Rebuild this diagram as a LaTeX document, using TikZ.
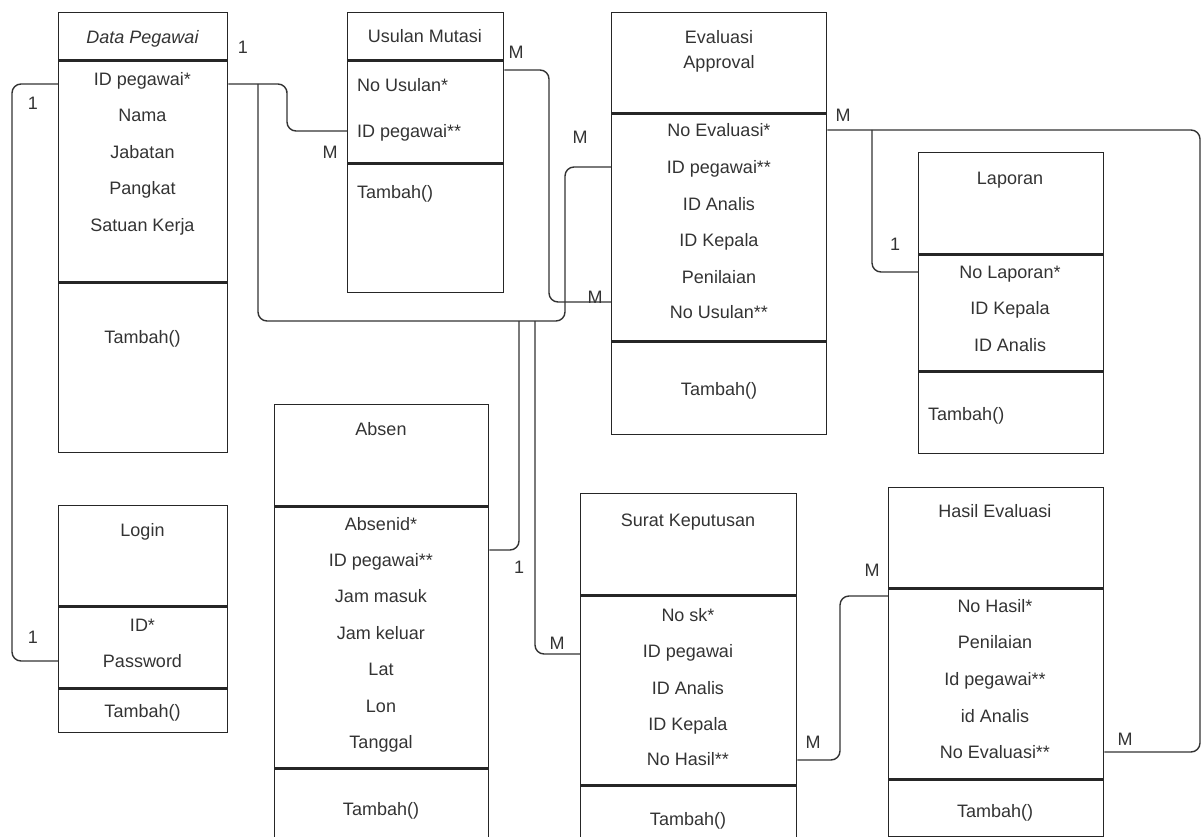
\documentclass[tikz,border=0pt]{standalone}
\usepackage{fontspec}
\setmainfont{Liberation Sans}
\usetikzlibrary{positioning,calc}

\begin{document}
\begin{tikzpicture}[
      x=1pt, y=-1pt, every node/.style={inner sep=0pt},
      box/.style={draw=black!85, line width=1.4pt},
      txt/.style={text=black!80, font=\fontsize{18}{25}\selectfont, text height=12.9pt, text depth=0pt},
      link/.style={draw=black!80, line width=1.4pt, rounded corners=9pt}
      ]

      % Pour garder les marges de l'original.
      \clip (0,0) rectangle (1204,837);

      % Data Pegawai
      \node[box, anchor=north west, minimum width=169, minimum height=47] (dp-head) at (58,12) {};
      \node[box, below=0pt of dp-head, minimum width=169, minimum height=221] (dp-attr) {};
      \node[box, below=0pt of dp-attr, minimum width=169, minimum height=169] (dp-meth) {};
      \node[txt] (dp-title) at (142.5,37) {\itshape Data Pegawai};
      \node[txt] (dp-id) at (142.5,79) {ID pegawai*};
      \node[txt] (dp-nama) at (142.5,115) {Nama};
      \node[txt] (dp-jab) at (142.5,152) {Jabatan};
      \node[txt] (dp-pang) at (142.5,188) {Pangkat};
      \node[txt] (dp-sat) at (142.5,225) {Satuan Kerja};
      \node[txt] (dp-tambah) at (142.5,337) {Tambah()};

      % Usulan Mutasi
      \node[box, anchor=north west, minimum width=156, minimum height=47] (um-head) at (347,12) {};
      \node[box, below=0pt of um-head, minimum width=156, minimum height=102] (um-attr) {};
      \node[box, below=0pt of um-attr, minimum width=156, minimum height=128] (um-meth) {};
      \node[txt] (um-title) at (425,36) {Usulan Mutasi};
      \node[txt, anchor=west] (um-no) at (357,85) {No Usulan*};
      \node[txt, anchor=west] (um-pid) at (357,131) {ID pegawai**};
      \node[txt, anchor=west] (um-tambah) at (357,192) {Tambah()};

      % Evaluasi Approval
      \node[box, anchor=north west, minimum width=215, minimum height=100] (ev-head) at (611,12) {};
      \node[box, below=0pt of ev-head, minimum width=215, minimum height=227] (ev-attr) {};
      \node[box, below=0pt of ev-attr, minimum width=215, minimum height=92] (ev-meth) {};
      \node[txt, text height=, text depth=, align=center, anchor=north] (ev-title) at (719,30) {Evaluasi\\Approval};
      \node[txt] (ev-no) at (719,130) {No Evaluasi*};
      \node[txt] (ev-pid) at (719,167) {ID pegawai**};
      \node[txt] (ev-anl) at (719,204) {ID Analis};
      \node[txt] (ev-kep) at (719,240) {ID Kepala};
      \node[txt] (ev-nil) at (719,277) {Penilaian};
      \node[txt] (ev-usl) at (719,312) {No Usulan**};
      \node[txt] (ev-tambah) at (719,389) {Tambah()};

      % Laporan
      \node[box, anchor=north west, minimum width=185, minimum height=101] (lap-head) at (918,152) {};
      \node[box, below=0pt of lap-head, minimum width=185, minimum height=116] (lap-attr) {};
      \node[box, below=0pt of lap-attr, minimum width=185, minimum height=81] (lap-meth) {};
      \node[txt] (lap-title) at (1010,178) {Laporan};
      \node[txt] (lap-no) at (1010,272) {No Laporan*};
      \node[txt] (lap-kep) at (1010,308) {ID Kepala};
      \node[txt] (lap-anl) at (1010,345) {ID Analis};
      \node[txt, anchor=west] (lap-tambah) at (928,414) {Tambah()};

      % Login
      \node[box, anchor=north west, minimum width=169, minimum height=100] (login-head) at (58,505) {};
      \node[box, below=0pt of login-head, minimum width=169, minimum height=81] (login-attr) {};
      \node[box, below=0pt of login-attr, minimum width=169, minimum height=43] (login-meth) {};
      \node[txt] (login-title) at (142.5,530) {Login};
      \node[txt] (login-id) at (142.5,625) {ID*};
      \node[txt] (login-pw) at (142.5,661) {Password};
      \node[txt] (login-tambah) at (142.5,711) {Tambah()};

      % Absen
      \node[box, anchor=north west, minimum width=214, minimum height=101] (ab-head) at (274,404) {};
      \node[box, below=0pt of ab-head, minimum width=214, minimum height=261] (ab-attr) {};
      \node[box, below=0pt of ab-attr, minimum width=214, minimum height=100] (ab-meth) {};
      \node[txt] (ab-title) at (381,429) {Absen};
      \node[txt] (ab-no) at (381,524) {Absenid*};
      \node[txt] (ab-pid) at (381,560) {ID pegawai**};
      \node[txt] (ab-masuk) at (381,596) {Jam masuk};
      \node[txt] (ab-keluar) at (381,633) {Jam keluar};
      \node[txt] (ab-lat) at (381,669) {Lat};
      \node[txt] (ab-lon) at (381,706) {Lon};
      \node[txt] (ab-tgl) at (381,742) {Tanggal};
      \node[txt] (ab-tambah) at (381,809) {Tambah()};

      % Surat Keputusan
      \node[box, anchor=north west, minimum width=216, minimum height=101] (sk-head) at (580,493) {};
      \node[box, below=0pt of sk-head, minimum width=216, minimum height=189] (sk-attr) {};
      \node[box, below=0pt of sk-attr, minimum width=216, minimum height=100] (sk-meth) {};
      \node[txt] (sk-title) at (688,520) {Surat Keputusan};
      \node[txt] (sk-no) at (688,615) {No sk*};
      \node[txt] (sk-pid) at (688,651) {ID pegawai};
      \node[txt] (sk-anl) at (688,688) {ID Analis};
      \node[txt] (sk-kep) at (688,724) {ID Kepala};
      \node[txt] (sk-hsl) at (688,759) {No Hasil**};
      \node[txt] (sk-tambah) at (688,819) {Tambah()};

      % Hasil Evaluasi
      \node[box, anchor=north west, minimum width=215, minimum height=100] (he-head) at (888,487) {};
      \node[box, below=0pt of he-head, minimum width=215, minimum height=190] (he-attr) {};
      \node[box, below=0pt of he-attr, minimum width=215, minimum height=56] (he-meth) {};
      \node[txt] (he-title) at (995,511) {Hasil Evaluasi};
      \node[txt] (he-no) at (995,606) {No Hasil*};
      \node[txt] (he-nil) at (995,642) {Penilaian};
      \node[txt] (he-pid) at (995,679) {Id pegawai**};
      \node[txt] (he-anl) at (995,716) {id Analis};
      \node[txt] (he-eval) at (995,752) {No Evaluasi**};
      \node[txt] (he-tambah) at (995,811) {Tambah()};

      % relations
      \coordinate (dp-fork) at (258,84);
      \coordinate (ab-fork) at (519,321);
      \coordinate (sk-fork) at (535,321);
      \coordinate (lap-fork) at (872,130);

      \path[link] ($(dp-attr.west |- dp-id)+(0,5)$) -| (12,400) |- (login-attr.west |- login-pw);
      \path[link] ($(dp-attr.east |- dp-id)+(0,5)$) -| (287,100) |- (um-attr.west |- um-pid);
      \path[link] (dp-fork) |- (565,321) |- (ev-attr.west |- ev-pid);
      \path[link] (ab-fork) |- ($(ab-attr.east |- ab-pid)+(0,-10)$);
      \path[link] (sk-fork) |- ($(sk-attr.west |- sk-pid)+(0,3)$);
      \path[link] ($(um-attr.east |- um-no)+(0,-15)$) -| (549,200) |- ($(ev-attr.west |- ev-usl)+(0,-10)$);
      \path[link] (ev-attr.east |- ev-no) -| (1200,400) |- (he-attr.east |- he-eval);
      \path[link] (lap-fork) |- (lap-attr.west |- lap-no);
      \path[link] ($(sk-attr.east |- sk-hsl)+(0,1)$) -| (840,680) |- ($(he-attr.west |- he-no)+(0,-10)$);

      % multiplicites
      \node[txt] (m-dp-um) at (243,47) {1};
      \node[txt] (m-dp-login) at (33,103) {1};
      \node[txt] (m-login) at (33,637) {1};
      \node[txt] (m-um-dp) at (330,152) {M};
      \node[txt] (m-um-ev) at (516,52) {M};
      \node[txt] (m-ev-dp) at (580,137) {M};
      \node[txt] (m-ev-um) at (595,297) {M};
      \node[txt] (m-ev-he) at (843,115) {M};
      \node[txt] (m-lap) at (895,244) {1};
      \node[txt] (m-ab) at (519,567) {1};
      \node[txt] (m-sk) at (557,643) {M};
      \node[txt] (m-sk-he) at (813,742) {M};
      \node[txt] (m-he-sk) at (872,570) {M};
      \node[txt] (m-he-ev) at (1125,739) {M};
    \end{tikzpicture}
\end{document}
